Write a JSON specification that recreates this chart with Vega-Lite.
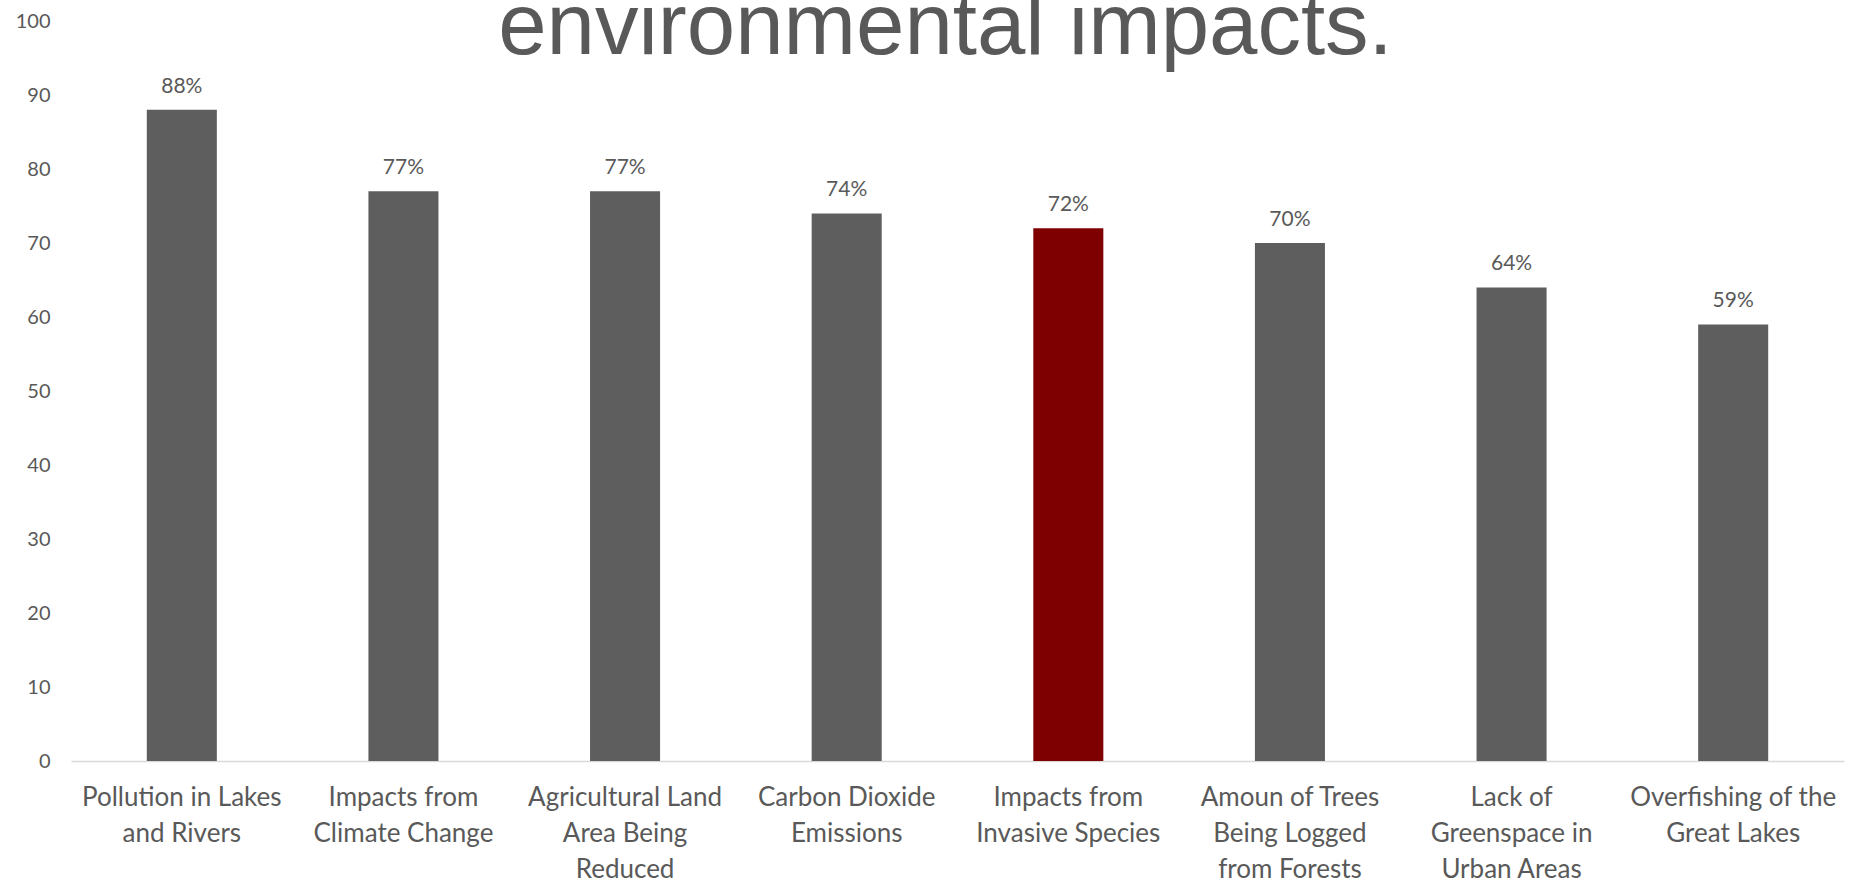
{
  "$schema": "https://vega.github.io/schema/vega-lite/v6.json",
  "autosize": {"type": "none"},
  "width": 1773,
  "height": 740,
  "padding": {"left": 71, "top": 21, "right": 14, "bottom": 122},
  "background": "white",
  "title": {
    "text": "environmental impacts.",
    "font": "Liberation Sans",
    "fontSize": 87,
    "fontWeight": "normal",
    "color": "#595959",
    "anchor": "middle",
    "baseline": "alphabetic",
    "offset": 0,
    "dy": 130,
    "dx": -12
  },
  "data": {
    "values": [
      {"category": "Pollution in Lakes|and Rivers", "value": 88},
      {"category": "Impacts from|Climate Change", "value": 77},
      {"category": "Agricultural Land|Area Being|Reduced", "value": 77},
      {"category": "Carbon Dioxide|Emissions", "value": 74},
      {"category": "Impacts from|Invasive Species", "value": 72},
      {"category": "Amoun of Trees|Being Logged|from Forests", "value": 70},
      {"category": "Lack of|Greenspace in|Urban Areas", "value": 64},
      {"category": "Overfishing of the|Great Lakes", "value": 59}
    ]
  },
  "transform": [{"calculate": "datum.value + '%'", "as": "label"}],
  "encoding": {
    "x": {
      "field": "category",
      "type": "nominal",
      "sort": null,
      "scale": {"paddingInner": 0.684, "paddingOuter": 0.342},
      "axis": {
        "title": null,
        "labelAngle": 0,
        "labelExpr": "split(datum.label, '|')",
        "labelFont": "Lato",
        "labelFontSize": 26,
        "labelColor": "#595959",
        "labelLineHeight": 36,
        "labelPadding": 23,
        "labelBaseline": "top",
        "ticks": false,
        "domainColor": "#D9D9D9",
        "domainWidth": 1.5,
        "labelLimit": 0
      }
    },
    "y": {
      "field": "value",
      "type": "quantitative",
      "scale": {"domain": [0, 100], "nice": false},
      "axis": {
        "title": null,
        "values": [0, 10, 20, 30, 40, 50, 60, 70, 80, 90, 100],
        "grid": false,
        "domain": false,
        "ticks": false,
        "labelFont": "Lato",
        "labelFontSize": 20,
        "labelColor": "#595959",
        "labelPadding": 21
      }
    }
  },
  "layer": [
    {
      "mark": {"type": "bar"},
      "encoding": {
        "color": {
          "condition": {"test": "datum.category === 'Impacts from|Invasive Species'", "value": "#7F0000"},
          "value": "#5E5E5E"
        }
      }
    },
    {
      "mark": {"type": "text", "baseline": "alphabetic", "dy": -17, "font": "Lato", "fontSize": 21, "color": "#595959"},
      "encoding": {"text": {"field": "label", "type": "nominal"}}
    }
  ],
  "config": {"view": {"stroke": null}}
}
